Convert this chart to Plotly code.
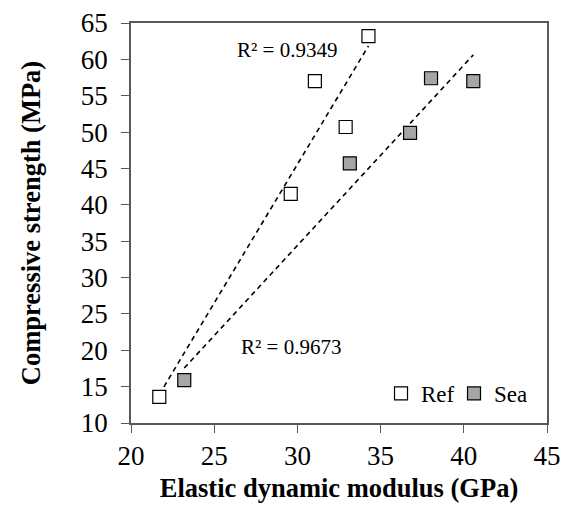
import numpy as np
import plotly.graph_objects as go

# Elastic dynamic modulus (GPa) vs compressive strength (MPa)
ref_modulus = [21.7, 29.6, 31.05, 32.9, 34.27]
ref_strength = [13.6, 41.5, 57.0, 50.7, 63.2]
sea_modulus = [23.2, 33.15, 36.77, 38.03, 40.57]
sea_strength = [15.9, 45.7, 49.9, 57.4, 57.0]

r2_ref_label = "R² = 0.9349"
r2_sea_label = "R² = 0.9673"

x_ticks = [20, 25, 30, 35, 40, 45]
y_ticks = [10, 15, 20, 25, 30, 35, 40, 45, 50, 55, 60, 65]

FONT = "Liberation Serif"
AXIS_COLOR = "#595959"


def trend(xs, ys):
    slope, intercept = np.polyfit(xs, ys, 1)
    xr = np.array([min(xs), max(xs)])
    return xr, slope * xr + intercept


fig = go.Figure()

for xs, ys in [(ref_modulus, ref_strength), (sea_modulus, sea_strength)]:
    tx, ty = trend(xs, ys)
    fig.add_trace(go.Scatter(
        x=tx, y=ty, mode="lines", showlegend=False, hoverinfo="skip",
        line=dict(color="black", width=1.6, dash="5px,4px"),
    ))

fig.add_trace(go.Scatter(
    x=ref_modulus, y=ref_strength, mode="markers", name="Ref",
    marker=dict(symbol="square", size=13, color="white",
                line=dict(color="black", width=1.2)),
))
fig.add_trace(go.Scatter(
    x=sea_modulus, y=sea_strength, mode="markers", name="Sea",
    marker=dict(symbol="square", size=13, color="#A6A6A6",
                line=dict(color="black", width=1.2)),
))

fig.add_annotation(x=29.36, y=61.25, text=r2_ref_label, showarrow=False,
                   font=dict(family=FONT, size=21, color="black"))
fig.add_annotation(x=29.63, y=20.48, text=r2_sea_label, showarrow=False,
                   font=dict(family=FONT, size=21, color="black"))

fig.update_layout(
    width=568, height=506,
    margin=dict(l=131, r=21, t=23, b=83),
    paper_bgcolor="white", plot_bgcolor="white",
    font=dict(family=FONT, color="black"),
    legend=dict(orientation="h", x=0.601, xanchor="left", y=0.02, yanchor="bottom",
                bgcolor="rgba(0,0,0,0)", font=dict(family=FONT, size=23),
                itemwidth=30, entrywidth=28, tracegroupgap=0),
    xaxis=dict(
        range=[20, 45], tickvals=x_ticks, showgrid=False, zeroline=False,
        showline=True, linecolor=AXIS_COLOR, linewidth=1.5, mirror=True,
        ticks="outside", ticklen=8, tickcolor=AXIS_COLOR, tickwidth=1,
        automargin=False,
        tickfont=dict(family=FONT, size=27, color="black"),
        title=dict(text="<b>Elastic dynamic modulus (GPa)</b>", standoff=8,
                   font=dict(family=FONT, size=26.5, color="black")),
    ),
    yaxis=dict(
        range=[10, 65], tickvals=y_ticks, showgrid=False, zeroline=False,
        showline=True, linecolor=AXIS_COLOR, linewidth=1.5, mirror=True,
        ticks="outside", ticklen=8, tickcolor=AXIS_COLOR, tickwidth=1,
        ticklabelstandoff=8, automargin=False,
        tickfont=dict(family=FONT, size=27, color="black"),
        title=dict(text="<b>Compressive strength (MPa)</b>", standoff=33,
                   font=dict(family=FONT, size=26.5, color="black")),
    ),
)

fig.write_html("out.html")
